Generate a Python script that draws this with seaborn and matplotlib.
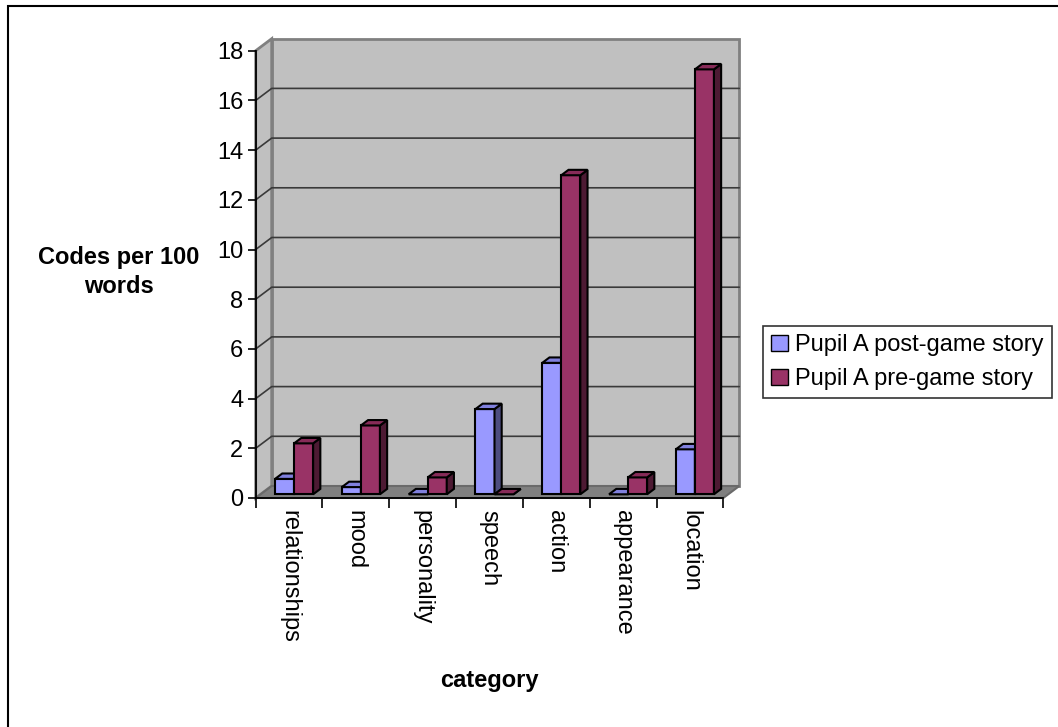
import matplotlib
matplotlib.use("Agg")
import matplotlib.pyplot as plt
from matplotlib.patches import Polygon, Rectangle, Patch
from matplotlib.lines import Line2D
from matplotlib.transforms import ScaledTranslation
import numpy as np
import pandas as pd
import seaborn as sns

# ---- data -------------------------------------------------------------
categories = ["relationships", "mood", "personality", "speech",
              "action", "appearance", "location"]
post_game = [0.62, 0.29, 0.0, 3.43, 5.29, 0.0, 1.81]
pre_game = [2.05, 2.77, 0.68, 0.0, 12.84, 0.68, 17.1]
series_names = ["Pupil A post-game story", "Pupil A pre-game story"]
y_ticks = [0, 2, 4, 6, 8, 10, 12, 14, 16, 18]

df = pd.DataFrame({
    "category": categories * 2,
    "value": post_game + pre_game,
    "series": [series_names[0]] * len(categories) + [series_names[1]] * len(categories),
})

face_cols = ["#9999FF", "#993366"]
top_cols = ["#8080DD", "#872B58"]
side_cols = ["#4D4D80", "#4D1A33"]

sns.set_theme(style="white")
plt.rcParams["font.family"] = ["Liberation Sans", "DejaVu Sans"]
for key in ["text.color", "axes.labelcolor", "xtick.color", "ytick.color"]:
    plt.rcParams[key] = "black"

FS = 17
W_PX, H_PX, DPI = 1058, 727, 100
fig = plt.figure(figsize=(W_PX / DPI, H_PX / DPI), dpi=DPI)
fig.patch.set_facecolor("white")

# front plane of the 3-D box, in pixels
left_px, right_px, top_px, bottom_px = 255.7, 723.3, 50.7, 498.0
ax = fig.add_axes([left_px / W_PX, 1 - bottom_px / H_PX,
                   (right_px - left_px) / W_PX, (bottom_px - top_px) / H_PX])
ax.set_facecolor("none")

sns.barplot(data=df, x="category", y="value", hue="series",
            order=categories, hue_order=series_names,
            palette=face_cols, saturation=1, width=0.57,
            edgecolor="black", linewidth=1.5, errorbar=None,
            legend=False, ax=ax)
bars = sorted(list(ax.patches), key=lambda p: p.get_x())

n = len(categories)
ax.set_xlim(-0.5, n - 0.5)
ax.set_ylim(0, 18)

# pixel -> data conversions for the depth offsets
px_x = (right_px - left_px) / n
px_y = (bottom_px - top_px) / 18
ddx, ddy = 16 / px_x, 12 / px_y          # full depth of the box
bdx, bdy = 0.45 * ddx, 0.45 * ddy        # depth of each bar

wall_kw = dict(facecolor="#C0C0C0", edgecolor="#808080", lw=2,
               clip_on=False, zorder=0.5)
x0, x1 = -0.5, n - 0.5
# back wall, side wall and floor
ax.add_patch(Rectangle((x0 + ddx, ddy), n, 18, **wall_kw))
ax.add_patch(Polygon([(x0, 0), (x0 + ddx, ddy), (x0 + ddx, 18 + ddy), (x0, 18)],
                     closed=True, **wall_kw))
ax.add_patch(Polygon([(x0, 0), (x1, 0), (x1 + ddx, ddy), (x0 + ddx, ddy)],
                     closed=True, facecolor="#808080", edgecolor="#6A6A6A",
                     lw=1.5, clip_on=False, zorder=0.6))

# gridlines across side wall and back wall
for v in y_ticks[1:-1]:
    ax.add_line(Line2D([x0, x0 + ddx, x1 + ddx], [v, v + ddy, v + ddy],
                       color="#3A3A3A", lw=1.2, clip_on=False, zorder=0.7))

# bars: front face from seaborn, plus side and top faces
shift = ax.transData + ScaledTranslation(5 / DPI, 3.7 / DPI, fig.dpi_scale_trans)
for i, p in enumerate(bars):
    s = 0 if p.get_facecolor()[2] > 0.7 else 1
    x, w, h = p.get_x(), p.get_width(), p.get_height()
    z = 3 + i * 0.01
    p.set_transform(shift)
    p.set_zorder(z)
    p.set_clip_on(False)
    side = Polygon([(x + w, 0), (x + w + bdx, bdy), (x + w + bdx, h + bdy), (x + w, h)],
                   closed=True, facecolor=side_cols[s], edgecolor="black", lw=1.5,
                   transform=shift, clip_on=False, zorder=z)
    top = Polygon([(x, h), (x + w, h), (x + w + bdx, h + bdy), (x + bdx, h + bdy)],
                  closed=True, facecolor=top_cols[s], edgecolor="black", lw=1.5,
                  transform=shift, clip_on=False, zorder=z)
    ax.add_patch(side)
    ax.add_patch(top)

# axes
for sp in ["top", "right"]:
    ax.spines[sp].set_visible(False)
for sp in ["left", "bottom"]:
    ax.spines[sp].set_visible(True)
    ax.spines[sp].set_color("black")
    ax.spines[sp].set_linewidth(1.3)
    ax.spines[sp].set_zorder(5)

ax.set_yticks(y_ticks)
ax.set_yticklabels([str(t) for t in y_ticks])
ax.tick_params(axis="y", direction="out", length=6, width=1.2, color="black",
               labelsize=FS, pad=3, left=True, labelcolor="black")
ax.set_xticks(range(n))
ax.set_xticklabels(categories, rotation=270, ha="center", va="top")
ax.set_xticks(np.arange(-0.5, n, 1.0), minor=True)
ax.tick_params(axis="x", which="major", length=0, labelsize=FS, pad=9,
               labelcolor="black")
ax.tick_params(axis="x", which="minor", direction="out", length=7, width=1.2,
               color="black", bottom=True)
ax.grid(False)

ax.set_ylabel("Codes per 100\nwords", rotation=0, fontsize=FS, fontweight="bold",
              ha="center", va="center", linespacing=1.3, color="black")
ax.yaxis.set_label_coords((119 - left_px) / (right_px - left_px),
                          (bottom_px - 272) / (bottom_px - top_px))
ax.set_xlabel("category", fontsize=FS, fontweight="bold", va="center", color="black")
ax.xaxis.set_label_coords((489 - left_px) / (right_px - left_px),
                          (bottom_px - 680) / (bottom_px - top_px))

# legend
handles = [Patch(facecolor=c, edgecolor="black", lw=1) for c in face_cols]
leg = fig.legend(handles, series_names, loc="upper left",
                 bbox_to_anchor=(763 / W_PX, 1 - 326 / H_PX),
                 frameon=True, fancybox=False, edgecolor="black", fontsize=FS,
                 handlelength=0.7, handleheight=0.7, handletextpad=0.3,
                 borderpad=0.35, labelspacing=0.5, borderaxespad=0)
leg.get_frame().set_linewidth(1.2)
for t in leg.get_texts():
    t.set_color("black")

# chart frame
fig.add_artist(Rectangle((8 / W_PX, -0.05), 1.2, 1 - 6 / H_PX + 0.05,
                         transform=fig.transFigure, fill=False,
                         edgecolor="black", lw=1.5, clip_on=False))

fig.savefig("out.png", dpi=DPI)
